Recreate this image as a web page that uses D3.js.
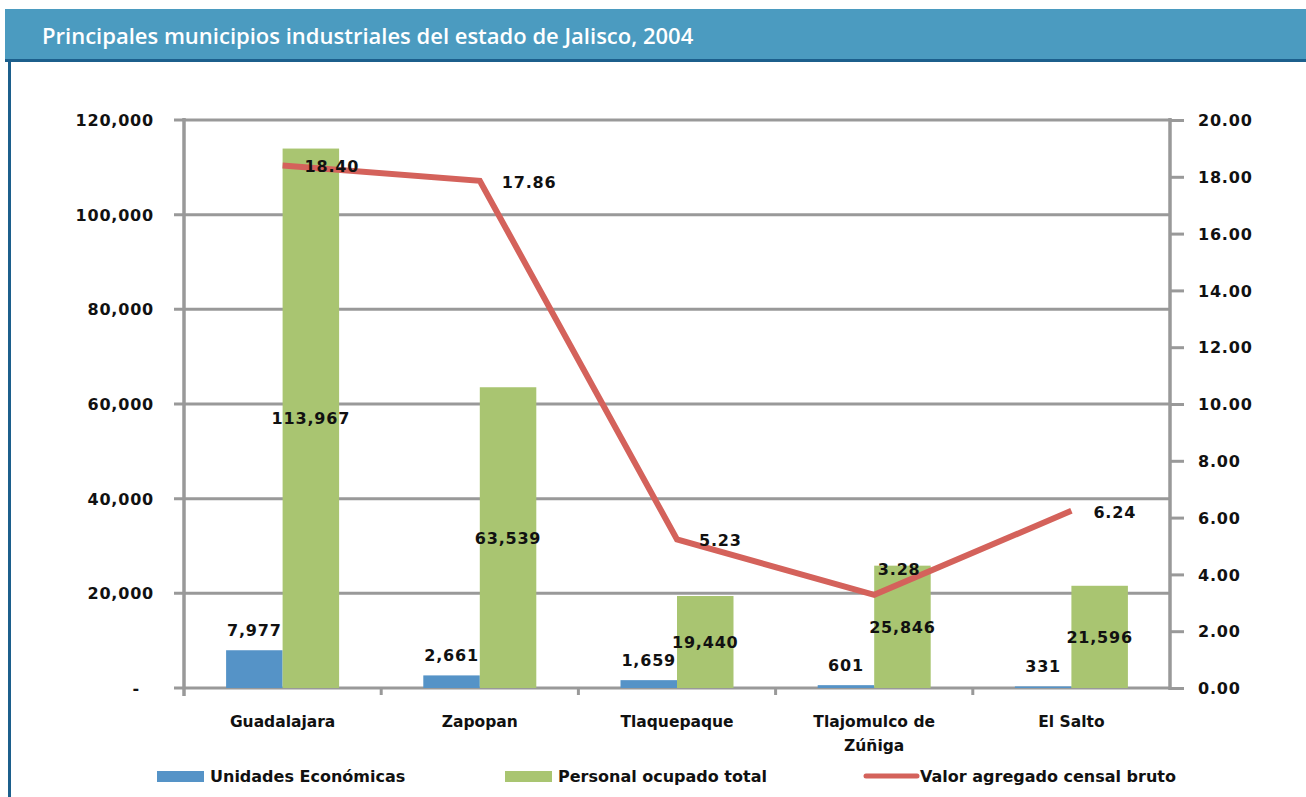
<!DOCTYPE html>
<html>
<head>
  <meta charset="utf-8">
  <title>Principales municipios industriales del estado de Jalisco, 2004</title>
  <script src="https://d3js.org/d3.v7.min.js"></script>
  <style>
    body { margin: 0; background: #fff; }
    text { font-family: "DejaVu Sans", sans-serif; font-weight: bold; fill: #111; }
    .title { font-family: "Open Sans", sans-serif; font-weight: 600; fill: #fff; font-size: 22px; }
    .axis text, .lbl { font-size: 16px; letter-spacing: 0.8px; }
    .cat { font-size: 15.5px; }
    .legend text { font-size: 16px; }
  </style>
</head>
<body>
  <svg width="1306" height="797"></svg>

  <script>
    // data
    const municipios = ["Guadalajara", "Zapopan", "Tlaquepaque", "Tlajomulco de Zúñiga", "El Salto"];
    const unidades = [7977, 2661, 1659, 601, 331];
    const personal = [113967, 63539, 19440, 25846, 21596];
    const valorAgregado = [18.40, 17.86, 5.23, 3.28, 6.24];
    const leftTicks = [0, 20000, 40000, 60000, 80000, 100000, 120000];
    const rightTicks = [0, 2, 4, 6, 8, 10, 12, 14, 16, 18, 20];
    const seriesNames = ["Unidades Económicas", "Personal ocupado total", "Valor agregado censal bruto"];
    const colors = ["#5593c7", "#a9c571", "#d4625b"];

    const svg = d3.select("svg");
    const grey = "#999";

    // header band
    svg.append("rect").attr("x", 5).attr("y", 9).attr("width", 1301).attr("height", 52).attr("fill", "#4b9bc0");
    svg.append("rect").attr("x", 5).attr("y", 59).attr("width", 1301).attr("height", 3).attr("fill", "#1c5f8c");
    svg.append("rect").attr("x", 8).attr("y", 60).attr("width", 3).attr("height", 737).attr("fill", "#1c5f8c");
    svg.append("text").attr("class", "title").attr("x", 42).attr("y", 44)
      .text("Principales municipios industriales del estado de Jalisco, 2004");

    // plot area
    const pLeft = 184, pRight = 1170, pTop = 120, pBottom = 688;

    const x = d3.scaleBand().domain(municipios).range([pLeft, pRight]);
    const groupW = 113;
    const xs = d3.scaleBand().domain([0, 1]).range([0, groupW]);
    const y = d3.scaleLinear().domain([0, 120000]).range([pBottom, pTop]);
    const y2 = d3.scaleLinear().domain([0, 20]).range([pBottom, pTop]);

    // gridlines
    svg.append("g").selectAll("line").data(leftTicks).join("line")
      .attr("x1", pLeft - 10).attr("x2", pRight)
      .attr("y1", d => y(d)).attr("y2", d => y(d))
      .attr("stroke", grey).attr("stroke-width", 3);

    // bars
    const groups = svg.append("g").selectAll("g").data(municipios).join("g")
      .attr("transform", d => `translate(${x(d) + (x.bandwidth() - groupW) / 2},0)`);
    groups.append("rect")
      .attr("x", xs(0)).attr("width", xs.bandwidth())
      .attr("y", (d, i) => y(unidades[i])).attr("height", (d, i) => pBottom - y(unidades[i]))
      .attr("fill", colors[0]);
    groups.append("rect")
      .attr("x", xs(1)).attr("width", xs.bandwidth())
      .attr("y", (d, i) => y(personal[i])).attr("height", (d, i) => pBottom - y(personal[i]))
      .attr("fill", colors[1]);

    // axes
    const fmt = d3.format(",");
    const yAxis = d3.axisLeft(y).tickValues(leftTicks).tickSize(0).tickPadding(30)
      .tickFormat(d => d === 0 ? "-" : fmt(d));
    const gy = svg.append("g").attr("class", "axis").attr("transform", `translate(${pLeft},0)`).call(yAxis);
    gy.select(".domain").remove();
    gy.selectAll("text").attr("dy", "0.35em").attr("dx", d => d === 0 ? -14 : 0);

    const y2Axis = d3.axisRight(y2).tickValues(rightTicks).tickSize(14).tickPadding(14)
      .tickFormat(d3.format(".2f"));
    const gy2 = svg.append("g").attr("class", "axis").attr("transform", `translate(${pRight},0)`).call(y2Axis);
    gy2.select(".domain").remove();
    gy2.selectAll("line").attr("stroke", grey).attr("stroke-width", 3);
    gy2.selectAll("text").attr("dy", "0.35em");

    svg.append("line").attr("x1", pLeft).attr("x2", pLeft).attr("y1", pTop - 2).attr("y2", pBottom + 8)
      .attr("stroke", grey).attr("stroke-width", 3.5);
    svg.append("line").attr("x1", pRight).attr("x2", pRight).attr("y1", pTop - 2).attr("y2", pBottom + 2)
      .attr("stroke", grey).attr("stroke-width", 3.5);

    // category ticks along bottom
    svg.append("g").selectAll("line").data(municipios.slice(1)).join("line")
      .attr("x1", d => x(d)).attr("x2", d => x(d))
      .attr("y1", pBottom).attr("y2", pBottom + 7)
      .attr("stroke", grey).attr("stroke-width", 3);

    // category labels (wrap the long one)
    const catWrap = { "Tlajomulco de Zúñiga": ["Tlajomulco de", "Zúñiga"] };
    svg.append("g").selectAll("text").data(municipios).join("text")
      .attr("class", "cat").attr("text-anchor", "middle")
      .attr("x", d => x(d) + x.bandwidth() / 2).attr("y", 727)
      .each(function(d) {
        const lines = catWrap[d] || [d];
        d3.select(this).selectAll("tspan").data(lines).join("tspan")
          .attr("x", x(d) + x.bandwidth() / 2)
          .attr("dy", (l, j) => j === 0 ? 0 : 24)
          .text(l => l);
      });

    // line series
    const cx = d => x(d) + x.bandwidth() / 2;
    const line = d3.line().x(d => cx(d)).y((d, i) => y2(valorAgregado[i]));
    svg.append("path").datum(municipios).attr("d", line)
      .attr("fill", "none").attr("stroke", colors[2]).attr("stroke-width", 6).attr("stroke-linejoin", "miter");

    // data labels
    const barX = (d, k) => x(d) + (x.bandwidth() - groupW) / 2 + xs(k) + xs.bandwidth() / 2;
    svg.append("g").selectAll("text").data(municipios).join("text")
      .attr("class", "lbl").attr("text-anchor", "middle")
      .attr("x", d => barX(d, 0)).attr("y", (d, i) => y(unidades[i]) - 14)
      .text((d, i) => fmt(unidades[i]));
    svg.append("g").selectAll("text").data(municipios).join("text")
      .attr("class", "lbl").attr("text-anchor", "middle")
      .attr("x", d => barX(d, 1)).attr("y", (d, i) => (y(personal[i]) + pBottom) / 2 + 6)
      .text((d, i) => fmt(personal[i]));
    const lblPos = ["right", "right", "right", "above", "right"];
    svg.append("g").selectAll("text").data(municipios).join("text")
      .attr("class", "lbl")
      .attr("text-anchor", (d, i) => lblPos[i] === "above" ? "middle" : "start")
      .attr("x", (d, i) => lblPos[i] === "above" ? cx(d) + 25 : cx(d) + 22)
      .attr("y", (d, i) => lblPos[i] === "above" ? y2(valorAgregado[i]) - 20 : y2(valorAgregado[i]) + 7)
      .text((d, i) => valorAgregado[i].toFixed(2));

    // legend
    const legendX = [157, 505, 866];
    const lg = svg.append("g").attr("class", "legend").selectAll("g").data(seriesNames).join("g")
      .attr("transform", (d, i) => `translate(${legendX[i]},776)`);
    lg.each(function(d, i) {
      const g = d3.select(this);
      if (i < 2) g.append("rect").attr("x", 0).attr("y", -5).attr("width", 47).attr("height", 11).attr("fill", colors[i]);
      else g.append("line").attr("x1", 0).attr("x2", 51).attr("y1", 0).attr("y2", 0)
        .attr("stroke", colors[2]).attr("stroke-width", 5).attr("stroke-linecap", "round");
      g.append("text").attr("x", i < 2 ? 53 : 54).attr("y", 6).text(d);
    });
  </script>
</body>
</html>
